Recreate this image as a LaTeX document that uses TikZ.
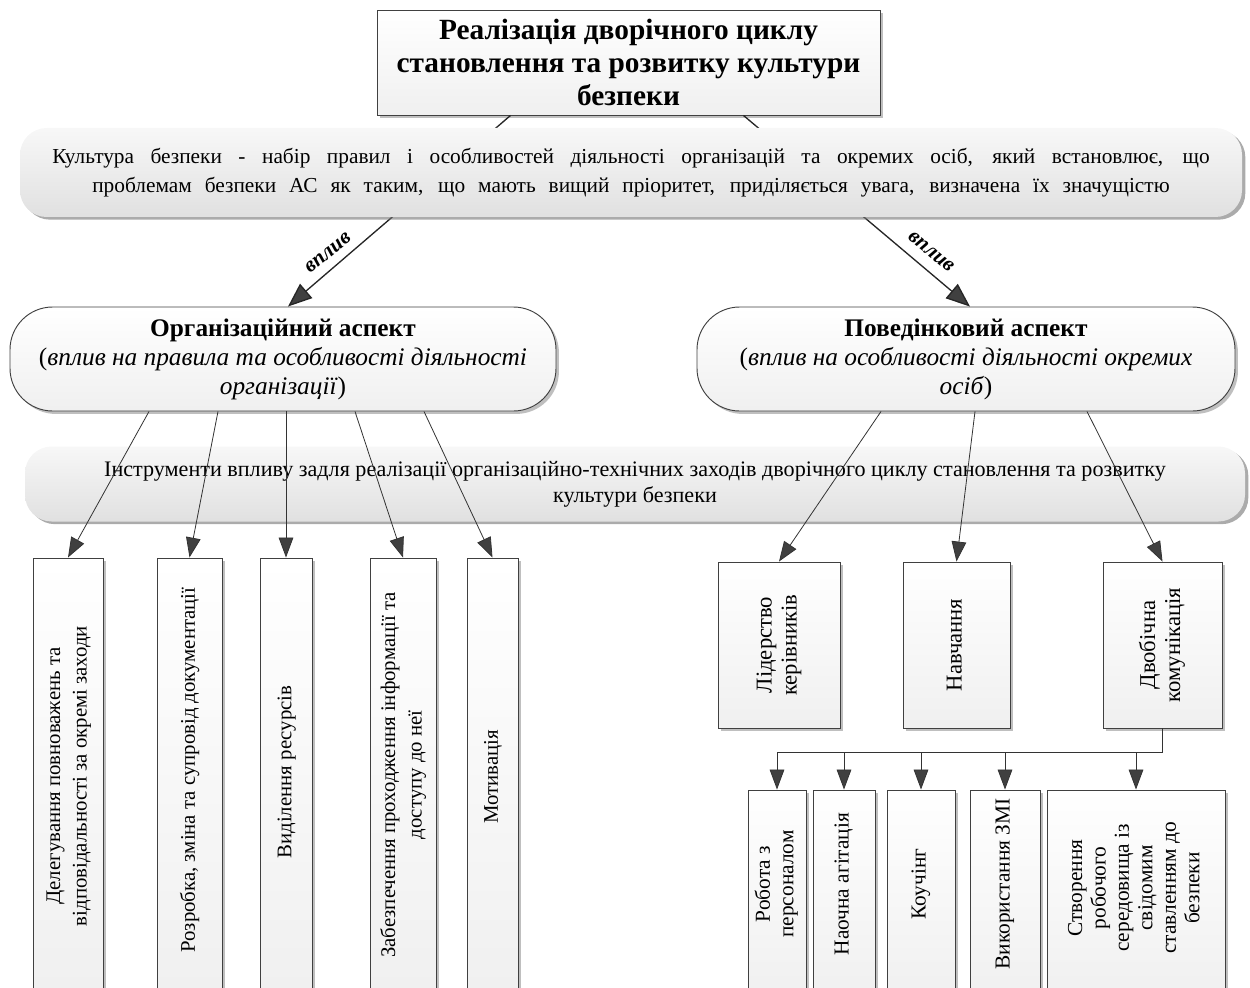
\documentclass[tikz,border=0pt]{standalone}
\usepackage{graphicx}
\usepackage{fontspec}
\setmainfont{Liberation Serif}
\usetikzlibrary{arrows.meta,shadows,calc}
\newcommand\fz[2]{\fontsize{#1}{#2}\selectfont}
\newcommand\vtxt[1]{\rotatebox{90}{\begin{tabular}{@{}c@{}}#1\end{tabular}}}

\begin{document}
\begin{tikzpicture}[x=0.75pt,y=-0.75pt,
  card/.style={draw=black!75, line width=0.7pt, top color=white, bottom color=black!6,
    drop shadow={shadow xshift=2.2pt, shadow yshift=-2.2pt, fill=black!50, opacity=0.5},
    inner sep=0pt, align=center},
  pill/.style={card, rounded corners=32pt},
  ribbon/.style={draw=none, top color=black!3, bottom color=black!12, rounded corners=20pt,
    drop shadow={shadow xshift=2.5pt, shadow yshift=-2pt, fill=black!55, opacity=0.6},
    inner sep=0pt, align=center},
  arr/.style={draw=black!80, line width=0.6pt, -{Triangle[length=15pt,width=11pt,fill=black!75]}},
  infl/.style={draw=black!85, line width=1pt, -{Triangle[length=18pt,width=14pt,fill=black!75]}},
  vlabel/.style={font=\fz{16}{18}\bfseries\itshape, inner sep=1pt},
  longtxt/.style={font=\fz{15.6}{20}, inner sep=0pt},
  tall/.style={font=\fz{17}{18.75}, inner sep=0pt},
  short/.style={font=\fz{16}{17.6}, inner sep=0pt}
]
\useasboundingbox (0,0) rectangle (1250,988);

% title
\node[card, minimum width=377.25pt, minimum height=78.75pt, font=\fz{22}{24.75}\bfseries] (title) at (628.5,62.5)
  {Реалізація дворічного циклу\\ становлення та розвитку культури\\ безпеки};

% the two aspects
\node[pill, minimum width=409.5pt, minimum height=78pt, font=\fz{19}{21.75}] (orgE) at (283,359)
  {\textbf{Організаційний аспект}\\ (\textit{вплив на правила та особливості діяльності}\\ \textit{організації})};
\node[pill, minimum width=403.5pt, minimum height=78pt, font=\fz{19}{21.75}] (behE) at (966,359)
  {\textbf{Поведінковий аспект}\\ (\textit{вплив на особливості діяльності окремих}\\ \textit{осіб})};

% influence arrows, partly hidden by the definition ribbon
\draw[infl] ($(title.south)+(-118,0)$) -- ($(orgE.north)+(5,0)$);
\draw[infl] ($(title.south)+(115,0)$) -- ($(behE.north)+(4,0)$);
\node[vlabel, rotate=39] (inflL) at (328,253) {вплив};
\node[vlabel, rotate=-39] (inflR) at (931,252) {вплив};

% definition ribbon
\node[ribbon, minimum width=916.5pt, minimum height=66.75pt, font=\fz{16}{21.75}] (ban1) at (631,172.5)
  {\makebox[868pt][s]{Культура безпеки - набір правил і особливостей діяльності організацій та окремих осіб, який встановлює, що}\\
   \makebox[808pt][s]{проблемам безпеки АС як таким, що мають вищий пріоритет, приділяється увага, визначена їх значущістю}};

% instruments ribbon
\node[ribbon, minimum width=915pt, minimum height=56.25pt, font=\fz{16.6}{19.5}] (ban2) at (635,484)
  {Інструменти впливу задля реалізації організаційно-технічних заходів дворічного циклу становлення та розвитку\\ культури безпеки};

% organisational tools (boxes run past the lower edge)
\node[card, minimum width=52.5pt, minimum height=331.5pt] (b1) at (68,779) {};
\node[card, minimum width=48.75pt, minimum height=331.5pt] (b2) at (189.5,779) {};
\node[card, minimum width=39pt, minimum height=331.5pt] (b3) at (286,779) {};
\node[card, minimum width=49.5pt, minimum height=331.5pt] (b4) at (403,779) {};
\node[card, minimum width=38.25pt, minimum height=331.5pt] (b5) at (492.5,779) {};
\node[longtxt] (b1t) at (68,776) {\vtxt{Делегування повноважень та\\ відповідальності за окремі заходи}};
\node[longtxt] (b2t) at (189.5,770) {\vtxt{Розробка, зміна та супровід документації}};
\node[longtxt] (b3t) at (286,772) {\vtxt{Виділення ресурсів}};
\node[longtxt] (b4t) at (403,775) {\vtxt{Забезпечення проходження інформації та\\ доступу до неї}};
\node[longtxt] (b5t) at (492.5,777) {\vtxt{Мотивація}};

% behavioural tools
\node[card, tall, minimum width=91.5pt, minimum height=124.5pt] (l1) at (779,645)
  {\vtxt{Лідерство\\ керівників}};
\node[card, tall, minimum width=80.25pt, minimum height=124.5pt] (l2) at (956.5,645)
  {\vtxt{Навчання}};
\node[card, tall, minimum width=89.25pt, minimum height=124.5pt] (l3) at (1162.5,645)
  {\vtxt{Двобічна\\ комунікація}};

% forms of two-way communication
\node[card, minimum width=43.5pt, minimum height=157.5pt] (r1) at (777,895) {};
\node[card, minimum width=46.5pt, minimum height=157.5pt] (r2) at (844,895) {};
\node[card, minimum width=51pt, minimum height=157.5pt] (r3) at (921,895) {};
\node[card, minimum width=52.5pt, minimum height=157.5pt] (r4) at (1005,895) {};
\node[card, minimum width=133.5pt, minimum height=157.5pt] (r5) at (1136,895) {};
\node[short] (r1t) at (777,884) {\vtxt{Робота з\\ персоналом}};
\node[short] (r2t) at (844,884) {\vtxt{Наочна агітація}};
\node[short] (r3t) at (921,884) {\vtxt{Коучінг}};
\node[short] (r4t) at (1005,884) {\vtxt{Використання ЗМІ}};
\node[short] (r5t) at (1136,888) {\vtxt{Створення\\ робочого\\ середовища із\\ свідомим\\ ставленням до\\ безпеки}};

% connectors from the organisational aspect
\draw[arr] ($(orgE.south)+(-134,0)$) -- (b1.north);
\draw[arr] ($(orgE.south)+(-65,0)$) -- (b2.north);
\draw[arr] ($(orgE.south)+(3,0)$) -- (b3.north);
\draw[arr] ($(orgE.south)+(72,0)$) -- (b4.north);
\draw[arr] ($(orgE.south)+(141,0)$) -- (b5.north);

% connectors from the behavioural aspect
\draw[arr] ($(behE.south)+(-85,0)$) -- (l1.north);
\draw[arr] ($(behE.south)+(9,0)$) -- (l2.north);
\draw[arr] ($(behE.south)+(121,0)$) -- (l3.north);

% bus below two-way communication
\coordinate (bus) at ($(l3.south)+(0,24)$);
\draw[draw=black!80, line width=0.6pt] (l3.south) -- (bus);
\foreach \t in {r1,r2,r3,r4,r5}
  \draw[arr] (bus) -| (\t.north);
\end{tikzpicture}
\end{document}
